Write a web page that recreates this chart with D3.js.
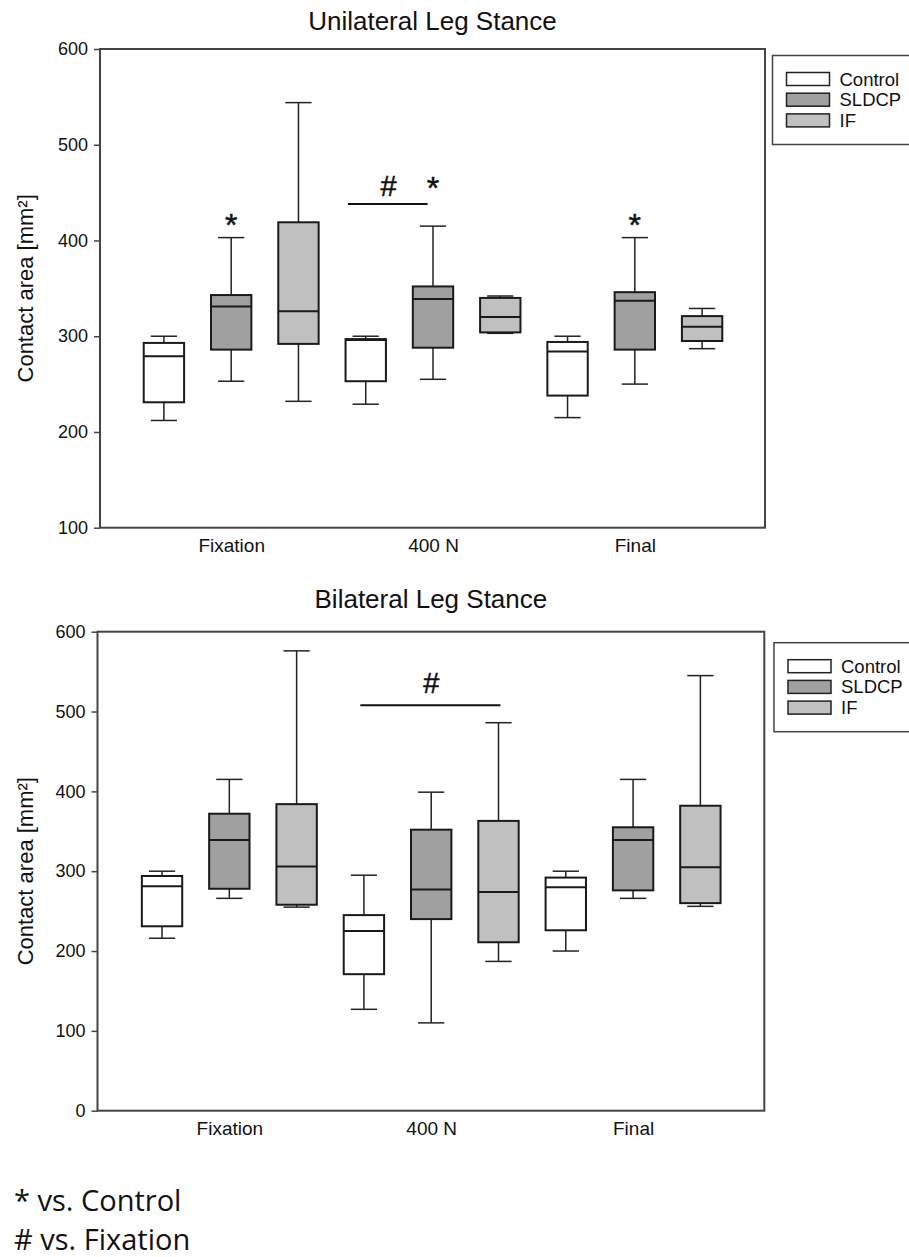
<!DOCTYPE html>
<html>
<head>
<meta charset="utf-8">
<script src="https://cdn.jsdelivr.net/npm/d3@7"></script>
<style>
  body { margin: 0; background: #fff; }
  svg { display: block; }
  text { font-family: "Liberation Sans", Arial, sans-serif; fill: #111; }
</style>
</head>
<body>
<svg id="fig" width="909" height="1257"></svg>
<script>
// categories and groups
var categories = ["Fixation", "400 N", "Final"];
var seriesNames = ["Control", "SLDCP", "IF"];
var seriesFills = ["#ffffff", "#a0a0a0", "#c0c0c0"];

// box stats per time point: [min, q1, median, q3, max]
var uniControl = [[212, 231, 279, 293, 300], [229, 253, 296, 297, 300], [215, 238, 284, 294, 300]];
var uniSLDCP   = [[253, 286, 331, 343, 403], [255, 288, 339, 352, 415], [250, 286, 337, 346, 403]];
var uniIF      = [[232, 292, 326, 419, 544], [303, 304, 320, 340, 342], [287, 295, 310, 321, 329]];

var biControl = [[216, 231, 281, 294, 300], [127, 171, 225, 245, 295], [200, 226, 280, 292, 300]];
var biSLDCP   = [[266, 278, 339, 372, 415], [110, 240, 277, 352, 399], [266, 276, 339, 355, 415]];
var biIF      = [[255, 258, 306, 384, 576], [187, 211, 274, 363, 486], [256, 260, 305, 382, 545]];

var uniTicks = [100, 200, 300, 400, 500, 600];
var biTicks = [0, 100, 200, 300, 400, 500, 600];

// significance marks: x in group units, y in data units (text baseline)
var uniMarks = [
  {text: "*", x: 0, y: 405},
  {text: "#", x: 0.78, y: 446},
  {text: "*", x: 1.0, y: 443},
  {text: "*", x: 2.0, y: 405}
];
var uniBars = [{x0: 0.578, x1: 0.973, y: 438}];
var biMarks = [{text: "#", x: 1.0, y: 523}];
var biBars = [{x0: 0.649, x1: 1.343, y: 508}];

var footnotes = ["* vs. Control", "# vs. Fixation"];

var svg = d3.select("#fig");

function drawChart(cfg) {
  var g = svg.append("g");
  var x = d3.scaleLinear().domain(cfg.xDomain).range([cfg.left, cfg.right]);
  var y = d3.scaleLinear().domain(cfg.yDomain).range([cfg.bottom, cfg.top]);
  var offsets = [-1 / 3, 0, 1 / 3];
  var boxW = x(0.2) - x(0);
  var capW = x(0.13) - x(0);

  // title
  g.append("text")
    .attr("x", (cfg.left + cfg.right) / 2)
    .attr("y", cfg.titleY)
    .attr("text-anchor", "middle")
    .style("font-size", "26px")
    .text(cfg.title);

  // y axis
  var yAxis = g.append("g")
    .attr("transform", "translate(" + cfg.left + ",0)")
    .call(d3.axisLeft(y).tickValues(cfg.ticks).tickSize(6).tickPadding(6).tickFormat(d3.format("d")));
  yAxis.select(".domain").remove();
  yAxis.selectAll("line").attr("stroke", "#444").attr("stroke-width", 1.5);
  yAxis.selectAll("text").style("font-size", "18px").style("font-family", "Liberation Sans, Arial, sans-serif").attr("fill", "#111");

  // x axis labels
  var xAxis = g.append("g")
    .attr("transform", "translate(0," + cfg.bottom + ")")
    .call(d3.axisBottom(x).tickValues([0, 1, 2]).tickSize(0).tickPadding(11)
      .tickFormat(function (d) { return categories[d]; }));
  xAxis.select(".domain").remove();
  xAxis.selectAll("text").style("font-size", "19px").style("font-family", "Liberation Sans, Arial, sans-serif").attr("fill", "#111");

  // y label
  g.append("text")
    .attr("transform", "translate(" + 33 + "," + ((cfg.top + cfg.bottom) / 2) + ") rotate(-90)")
    .attr("text-anchor", "middle")
    .style("font-size", "22px")
    .text("Contact area [mm\u00B2]");

  // boxes
  cfg.series.forEach(function (rows, si) {
    rows.forEach(function (d, gi) {
      var cx = x(gi + offsets[si]);
      var b = g.append("g");
      b.append("line").attr("x1", cx).attr("x2", cx).attr("y1", y(d[3])).attr("y2", y(d[4]))
        .attr("stroke", "#222").attr("stroke-width", 1.5);
      b.append("line").attr("x1", cx - capW / 2).attr("x2", cx + capW / 2).attr("y1", y(d[4])).attr("y2", y(d[4]))
        .attr("stroke", "#222").attr("stroke-width", 1.5);
      b.append("line").attr("x1", cx).attr("x2", cx).attr("y1", y(d[1])).attr("y2", y(d[0]))
        .attr("stroke", "#222").attr("stroke-width", 1.5);
      b.append("line").attr("x1", cx - capW / 2).attr("x2", cx + capW / 2).attr("y1", y(d[0])).attr("y2", y(d[0]))
        .attr("stroke", "#222").attr("stroke-width", 1.5);
      b.append("rect")
        .attr("x", cx - boxW / 2).attr("width", boxW)
        .attr("y", y(d[3])).attr("height", y(d[1]) - y(d[3]))
        .attr("fill", seriesFills[si]).attr("stroke", "#1a1a1a").attr("stroke-width", 2);
      b.append("line").attr("x1", cx - boxW / 2).attr("x2", cx + boxW / 2).attr("y1", y(d[2])).attr("y2", y(d[2]))
        .attr("stroke", "#1a1a1a").attr("stroke-width", 2);
    });
  });

  // significance
  cfg.bars.forEach(function (b) {
    g.append("line").attr("x1", x(b.x0)).attr("x2", x(b.x1)).attr("y1", y(b.y)).attr("y2", y(b.y))
      .attr("stroke", "#111").attr("stroke-width", 2);
  });
  cfg.marks.forEach(function (m) {
    g.append("text").attr("x", x(m.x)).attr("y", y(m.y))
      .attr("text-anchor", "middle")
      .style("font-size", m.text === "*" ? "32px" : "29px")
      .attr("stroke", "#111").attr("stroke-width", 0.5)
      .text(m.text);
  });

  // frame
  g.append("rect")
    .attr("x", cfg.left).attr("y", cfg.top)
    .attr("width", cfg.right - cfg.left).attr("height", cfg.bottom - cfg.top)
    .attr("fill", "none").attr("stroke", "#444").attr("stroke-width", 2);

  // legend
  var lg = g.append("g").attr("transform", "translate(" + cfg.legendX + "," + cfg.legendY + ")");
  lg.append("rect").attr("x", 0).attr("y", 0).attr("width", 150).attr("height", 89)
    .attr("fill", "#fff").attr("stroke", "#444").attr("stroke-width", 1.5);
  seriesNames.forEach(function (name, i) {
    lg.append("rect").attr("x", 14).attr("y", 17 + i * 20.7).attr("width", 43).attr("height", 13)
      .attr("fill", seriesFills[i]).attr("stroke", "#222").attr("stroke-width", 1.5);
    lg.append("text").attr("x", 67).attr("y", 30 + i * 20.7).style("font-size", "18.5px").text(name);
  });
}

drawChart({
  title: "Unilateral Leg Stance", titleY: 30,
  left: 100, right: 765, top: 49, bottom: 527.7,
  xDomain: [-0.65, 2.645], yDomain: [100, 600], ticks: uniTicks,
  series: [uniControl, uniSLDCP, uniIF],
  marks: uniMarks, bars: uniBars,
  legendX: 772.5, legendY: 55.5
});

drawChart({
  title: "Bilateral Leg Stance", titleY: 608,
  left: 97.5, right: 764.3, top: 631.7, bottom: 1110.7,
  xDomain: [-0.653, 2.65], yDomain: [0, 600], ticks: biTicks,
  series: [biControl, biSLDCP, biIF],
  marks: biMarks, bars: biBars,
  legendX: 774, legendY: 642.7
});

// footnotes
svg.selectAll("text.foot")
  .data(footnotes)
  .enter().append("text")
  .attr("class", "foot")
  .attr("x", 14)
  .attr("y", function (d, i) { return 1211 + i * 39; })
  .style("font-family", "'Open Sans', sans-serif")
  .style("font-size", "29px")
  .text(function (d) { return d; });
</script>
</body>
</html>
